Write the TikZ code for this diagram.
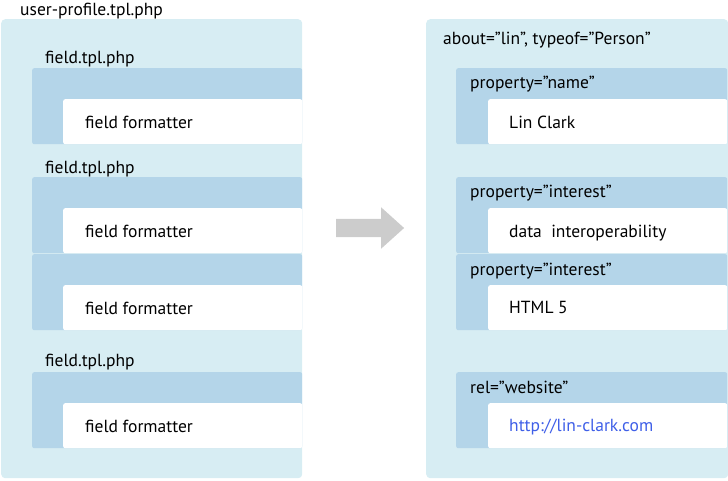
\documentclass[tikz,border=0pt]{standalone}
\usepackage{fontspec}
\setmainfont{PT Sans}
\usepackage{xcolor}
\usepackage{tikz}
\usetikzlibrary{positioning,shapes.arrows}
\definecolor{boxOuter}{HTML}{D7EDF3}
\definecolor{boxField}{HTML}{B4D5E9}
\definecolor{arrowGray}{HTML}{CCCCCC}
\definecolor{linkBlue}{HTML}{3F5FE8}

\begin{document}
\begin{tikzpicture}[
  x=1pt, y=-1pt,
  outer/.style={fill=boxOuter, rounded corners=4pt, anchor=north west,
    inner sep=0pt, minimum height=459pt},
  fieldbox/.style={fill=boxField, rounded corners=2pt, anchor=north west,
    inner sep=0pt, minimum width=#1, minimum height=76pt},
  valbox/.style={fill=white, rounded corners=2pt, anchor=north west,
    inner sep=0pt, minimum width=239pt, minimum height=45pt},
  lbl/.style={anchor=base west, inner sep=0pt, font=\fontsize{17.5}{20}\selectfont},
]
\useasboundingbox (0,0) rectangle (728,480);

% Template side (left)
\node[outer, minimum width=301pt] (tpl) at (1,19) {};
\node[lbl] (tplname) at (20,15) {user-profile.tpl.php};

\node[fieldbox=270pt] (fieldA) at (32,68) {};
\node[valbox] (fmtA) at (63,99) {};
\node[lbl] (fieldAname) at (45,63) {field.tpl.php};
\node[lbl] (fmtAtext) at (85,128) {field formatter};

\node[fieldbox=270pt] (fieldB) at (32,177) {};
\node[valbox] (fmtB) at (63,208) {};
\node[fieldbox=270pt] (fieldC) at (32,254) {};
\node[valbox] (fmtC) at (63,285) {};
\node[lbl] (fieldBname) at (45,173) {field.tpl.php};
\node[lbl] (fmtBtext) at (85,237) {field formatter};
\node[lbl] (fmtCtext) at (85,314) {field formatter};

\node[fieldbox=270pt] (fieldD) at (32,372) {};
\node[valbox] (fmtD) at (63,403) {};
\node[lbl] (fieldDname) at (45,366) {field.tpl.php};
\node[lbl] (fmtDtext) at (85,432) {field formatter};

% Arrow
\node[single arrow, fill=arrowGray, inner xsep=0pt, inner ysep=9pt,
  minimum height=68pt, single arrow head extend=11.5pt,
  single arrow tip angle=84] (conv) at (365,228) {};

% RDFa side (right)
\node[outer, minimum width=302pt] (rdfa) at (426,19) {};
\node[lbl] (about) at (443,44) {about=”lin”, typeof=”Person”};

\node[fieldbox=271pt] (propName) at (456,68) {};
\node[valbox] (valName) at (488,99) {};
\node[lbl] (propNametext) at (470,88) {property=”name”};
\node[lbl] (valNametext) at (509,128) {Lin Clark};

\node[fieldbox=271pt] (propInt) at (456,177) {};
\node[valbox] (valInt) at (488,208) {};
\node[lbl] (propInttext) at (470,197) {property=”interest”};
\node[lbl] (valInttext) at (509,237) {data~ interoperability};

\node[fieldbox=271pt] (propIntB) at (456,254) {};
\node[valbox] (valIntB) at (488,285) {};
\node[lbl] (propIntBtext) at (470,275) {property=”interest”};
\node[lbl] (valIntBtext) at (509,313) {HTML 5};

\node[fieldbox=271pt] (relWeb) at (456,372) {};
\node[valbox] (valWeb) at (488,403) {};
\node[lbl] (relWebtext) at (470,393) {rel=”website”};
\node[lbl, text=linkBlue] (valWebtext) at (509,431) {http://lin-clark.com};

\end{tikzpicture}
\end{document}
